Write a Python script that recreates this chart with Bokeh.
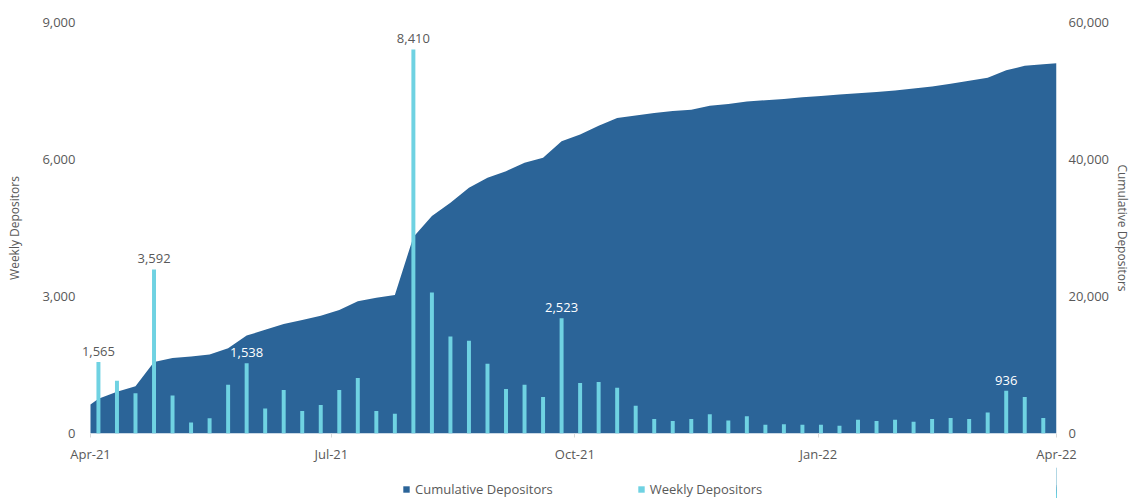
import pandas as pd
from bokeh.plotting import figure
from bokeh.layouts import column
from bokeh.models import (Range1d, LinearAxis, FixedTicker, NumeralTickFormatter,
                          ColumnDataSource, LabelSet, Legend, LegendItem)
from bokeh.core.properties import value
from bokeh.embed import file_html
from bokeh.resources import INLINE

# ---------------- data ----------------
week_start = "2021-04-04"
n_weeks = 52
weekly = [1565, 1157, 880, 3592, 830, 240, 335, 1070, 1538, 545,
          955, 490, 625, 950, 1215, 490, 430, 8410, 3090, 2125,
          2030, 1530, 975, 1070, 800, 2523, 1105, 1130, 1000, 610,
          320, 275, 320, 420, 285, 380, 190, 205, 190, 190,
          170, 300, 275, 300, 260, 320, 340, 320, 460, 936,
          800, 340]
cum_start_date = "2021-04-01"
cum_end_date = "2022-04-01"
cumulative = [4220,
              5090, 6110, 6880, 10430, 11010, 11240, 11530, 12460, 14300, 15130,
              16000, 16580, 17200, 18040, 19300, 19830, 20220, 28700, 31750, 33700,
              35880, 37340, 38300, 39520, 40250, 42660, 43640, 44940, 46060, 46440,
              46790, 47080, 47270, 47850, 48100, 48450, 48650, 48830, 49100, 49280,
              49480, 49670, 49870, 50090, 50370, 50660, 51050, 51490, 51930, 53020,
              53670, 53890,
              54060]
labeled_weeks = [0, 3, 8, 17, 25, 49]
tick_dates = ["2021-04-01", "2021-07-01", "2021-10-01", "2022-01-01", "2022-04-01"]
tick_labels = ["Apr-21", "Jul-21", "Oct-21", "Jan-22", "Apr-22"]
left_ticks = [0, 3000, 6000, 9000]
right_ticks = [0, 20000, 40000, 60000]
left_max, right_max = 9000, 60000
series_names = ["Cumulative Depositors", "Weekly Depositors"]

# ---------------- derived ----------------
weeks = list(pd.date_range(start=week_start, periods=n_weeks, freq="7D"))
cum_dates = [pd.Timestamp(cum_start_date)] + weeks + [pd.Timestamp(cum_end_date)]

FONT = "Open Sans"
GREY = "#595959"
AREA = "#2b6498"
BAR = "#6fd2e2"

W = 1139
H_MAIN, H_LEG = 465, 33
BL, BR, BT, BB = 80, 83, 22, 30
FW = W - BL - BR
PAD_LEFT_PX = 10                      # extra frame room left of Apr-21 so labels are not clipped
t0 = pd.Timestamp(tick_dates[0])
t1 = pd.Timestamp(tick_dates[-1])
span = t1 - t0
x_start = t0 - span * (PAD_LEFT_PX / (FW - PAD_LEFT_PX))

p = figure(width=W, height=H_MAIN, x_axis_type="datetime",
           x_range=Range1d(x_start, t1),
           y_range=Range1d(0, left_max),
           output_backend="svg", toolbar_location=None,
           min_border_left=BL, min_border_right=BR, min_border_top=BT, min_border_bottom=BB)
p.extra_y_ranges = {"cum": Range1d(0, right_max)}
p.outline_line_color = None
p.xgrid.visible = False
p.ygrid.visible = False

area_src = ColumnDataSource(dict(x=cum_dates, y=cumulative))
area = p.varea(x="x", y1=0, y2="y", source=area_src, fill_color=AREA,
               y_range_name="cum")

bar_src = ColumnDataSource(dict(x=weeks, top=weekly))
bars = p.vbar(x="x", top="top", width=1.5 * 86400000, source=bar_src,
              fill_color=BAR, line_color=None)

# labels
lab_x = [weeks[i] for i in labeled_weeks]
lab_y = [weekly[i] for i in labeled_weeks]
lab_t = [f"{weekly[i]:,}" for i in labeled_weeks]
lab_c = ["white" if weekly[i] < cumulative[i + 1] * left_max / right_max else GREY
         for i in labeled_weeks]
lab_src = ColumnDataSource(dict(x=lab_x, y=lab_y, t=lab_t, c=lab_c))
labels = LabelSet(x="x", y="y", text="t", source=lab_src, text_align="center",
                  text_baseline="bottom", y_offset=6, text_color="c",
                  text_font=value(FONT), text_font_size=value("13px"))
p.add_layout(labels)

# x axis
xa = p.xaxis[0]
tick_ms = [pd.Timestamp(d).value // 10**6 for d in tick_dates]
xa.ticker = FixedTicker(ticks=tick_ms)
xa.major_label_overrides = {t: l for t, l in zip(tick_ms, tick_labels)}
xa.axis_line_color = None
xa.major_tick_line_color = "#d9d9d9"
xa.major_tick_out = 4
xa.major_tick_in = 0
xa.minor_tick_line_color = None
xa.major_label_standoff = 7
xa.major_label_text_font = FONT
xa.major_label_text_font_size = "13px"
xa.major_label_text_color = GREY

# left axis
ya = p.yaxis[0]
ya.ticker = FixedTicker(ticks=left_ticks)
ya.formatter = NumeralTickFormatter(format="0,0")
ya.axis_line_color = None
ya.major_tick_line_color = None
ya.minor_tick_line_color = None
ya.major_tick_out = 0
ya.major_tick_in = 0
ya.major_label_standoff = 5
ya.major_label_text_font = FONT
ya.major_label_text_font_size = "13px"
ya.major_label_text_color = GREY
ya.axis_label = "Weekly Depositors"
ya.axis_label_standoff = 16
ya.axis_label_text_font = FONT
ya.axis_label_text_font_size = "12px"
ya.axis_label_text_font_style = "normal"
ya.axis_label_text_color = GREY

# right axis
ra = LinearAxis(y_range_name="cum", ticker=FixedTicker(ticks=right_ticks),
                formatter=NumeralTickFormatter(format="0,0"))
ra.axis_line_color = None
ra.major_tick_line_color = None
ra.minor_tick_line_color = None
ra.major_tick_out = 0
ra.major_tick_in = 0
ra.major_label_standoff = 12
ra.major_label_text_font = FONT
ra.major_label_text_font_size = "13px"
ra.major_label_text_color = GREY
ra.axis_label = "Cumulative Depositors"
ra.axis_label_standoff = 2
ra.axis_label_text_font = FONT
ra.axis_label_text_font_size = "12px"
ra.axis_label_text_font_style = "normal"
ra.axis_label_text_color = GREY
p.add_layout(ra, "right")

# legend strip below the chart: its bar renderers lie outside its view, only the legend shows
pl = figure(width=W, height=H_LEG, x_axis_type="datetime",
            x_range=Range1d(t0 - 3 * span, t0 - 2 * span), y_range=Range1d(0, left_max),
            output_backend="svg", toolbar_location=None,
            x_axis_location=None, y_axis_location=None, min_border=0)
pl.outline_line_color = None
pl.xgrid.visible = False
pl.ygrid.visible = False
l_area = pl.vbar(x="x", top="top", width=1.5 * 86400000, source=bar_src,
                 fill_color=AREA, line_color=None)
l_bars = pl.vbar(x="x", top="top", width=1.5 * 86400000, source=bar_src,
                 fill_color=BAR, line_color=None)
legend = Legend(items=[LegendItem(label=series_names[0], renderers=[l_area]),
                       LegendItem(label=series_names[1], renderers=[l_bars])],
                location=(402 - BL, 0), orientation="horizontal",
                label_text_font=FONT, label_text_font_size="13px",
                label_text_color=GREY, glyph_width=8, glyph_height=8,
                label_standoff=5, spacing=84, padding=0, margin=0,
                border_line_color=None, background_fill_alpha=0,
                label_height=16)
pl.add_layout(legend)

layout = column(p, pl, spacing=0)
open("out.html", "w").write(file_html(layout, INLINE))
